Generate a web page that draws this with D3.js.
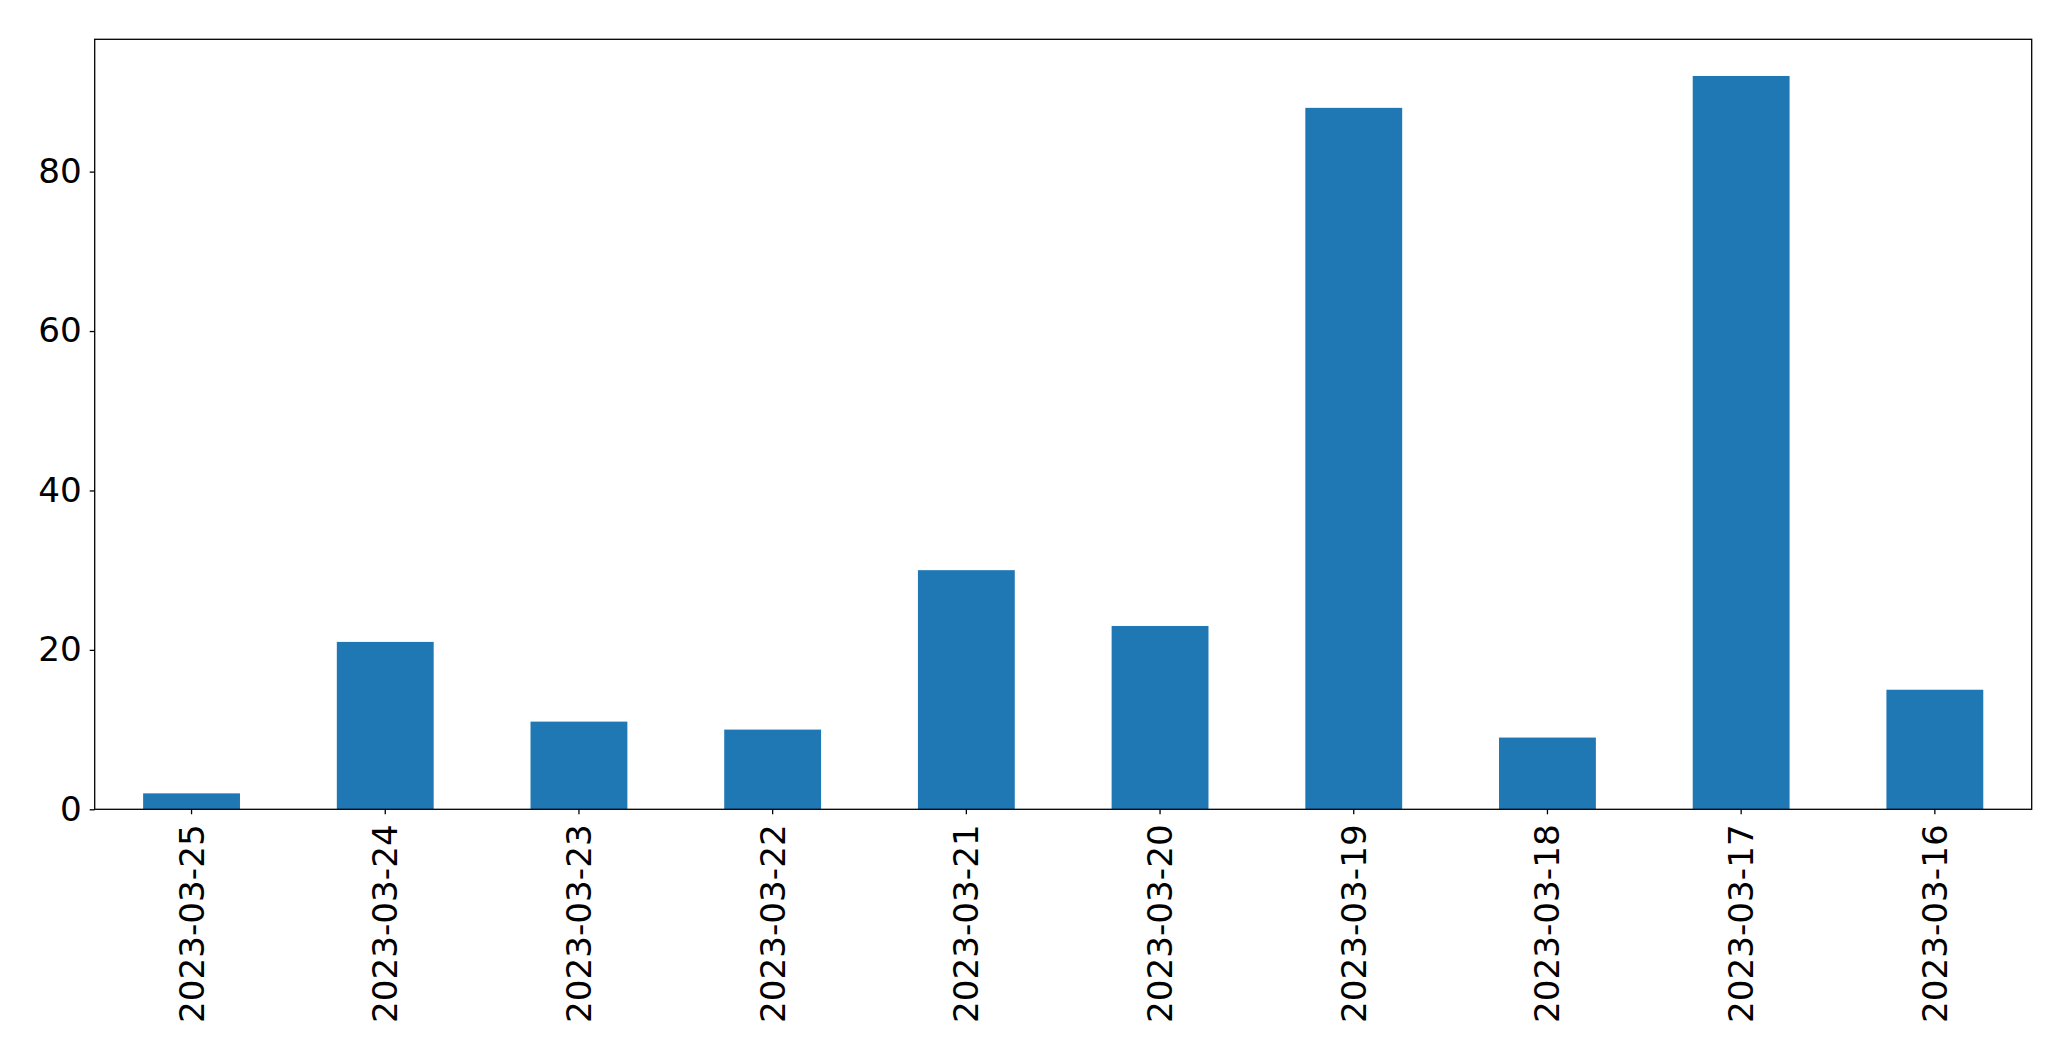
<!DOCTYPE html>
<html>
<head>
<meta charset="utf-8">
<script src="https://cdn.jsdelivr.net/npm/d3@7"></script>
<style>
  html, body { margin: 0; padding: 0; background: #fff; }
  svg { display: block; }
</style>
</head>
<body>
<svg id="chart" width="2071" height="1061"></svg>
<script>
const categories = ["2023-03-25","2023-03-24","2023-03-23","2023-03-22","2023-03-21","2023-03-20","2023-03-19","2023-03-18","2023-03-17","2023-03-16"];
const values = [2, 21, 11, 10, 30, 23, 88, 9, 92, 15];
const yTicks = [0, 20, 40, 60, 80];

const W = 2071, H = 1061;
const margin = { left: 94.7, right: W - 2031.7, top: 39.3, bottom: H - 809.3 };
const svg = d3.select("#chart");
const font = "DejaVu Sans, sans-serif";
const fontSize = 34.2;

const x = d3.scaleBand().domain(categories)
  .range([margin.left, W - margin.right]).paddingInner(0.5).paddingOuter(0.25);
const y = d3.scaleLinear().domain([0, d3.max(values) * 1.05])
  .range([H - margin.bottom, margin.top]);

// bars
svg.append("g").selectAll("rect").data(values).join("rect")
  .attr("x", (d, i) => x(categories[i]))
  .attr("width", x.bandwidth())
  .attr("y", d => y(d))
  .attr("height", d => y(0) - y(d))
  .attr("fill", "#1f77b4");

// frame
svg.append("rect")
  .attr("x", margin.left).attr("y", margin.top)
  .attr("width", W - margin.right - margin.left)
  .attr("height", H - margin.bottom - margin.top)
  .attr("fill", "none").attr("stroke", "#000").attr("stroke-width", 1.3);

// y axis
const yAxis = svg.append("g")
  .attr("transform", `translate(${margin.left},0)`)
  .call(d3.axisLeft(y).tickValues(yTicks).tickSize(5).tickPadding(8).tickFormat(d3.format("d")));
yAxis.select(".domain").remove();
yAxis.selectAll("line").attr("stroke", "#000").attr("stroke-width", 1.3);
yAxis.selectAll("text").attr("font-family", font).attr("font-size", fontSize).attr("fill", "#000");

// x axis
const xAxis = svg.append("g")
  .attr("transform", `translate(0,${H - margin.bottom})`)
  .call(d3.axisBottom(x).tickSize(5).tickPadding(0));
xAxis.select(".domain").remove();
xAxis.selectAll("line").attr("stroke", "#000").attr("stroke-width", 1.3);
xAxis.selectAll("text")
  .attr("font-family", font).attr("font-size", fontSize).attr("fill", "#000")
  .attr("transform", "translate(0,15) rotate(-90)")
  .attr("text-anchor", "end")
  .attr("dy", "0.35em")
  .attr("x", 0).attr("y", 0);
</script>
</body>
</html>
